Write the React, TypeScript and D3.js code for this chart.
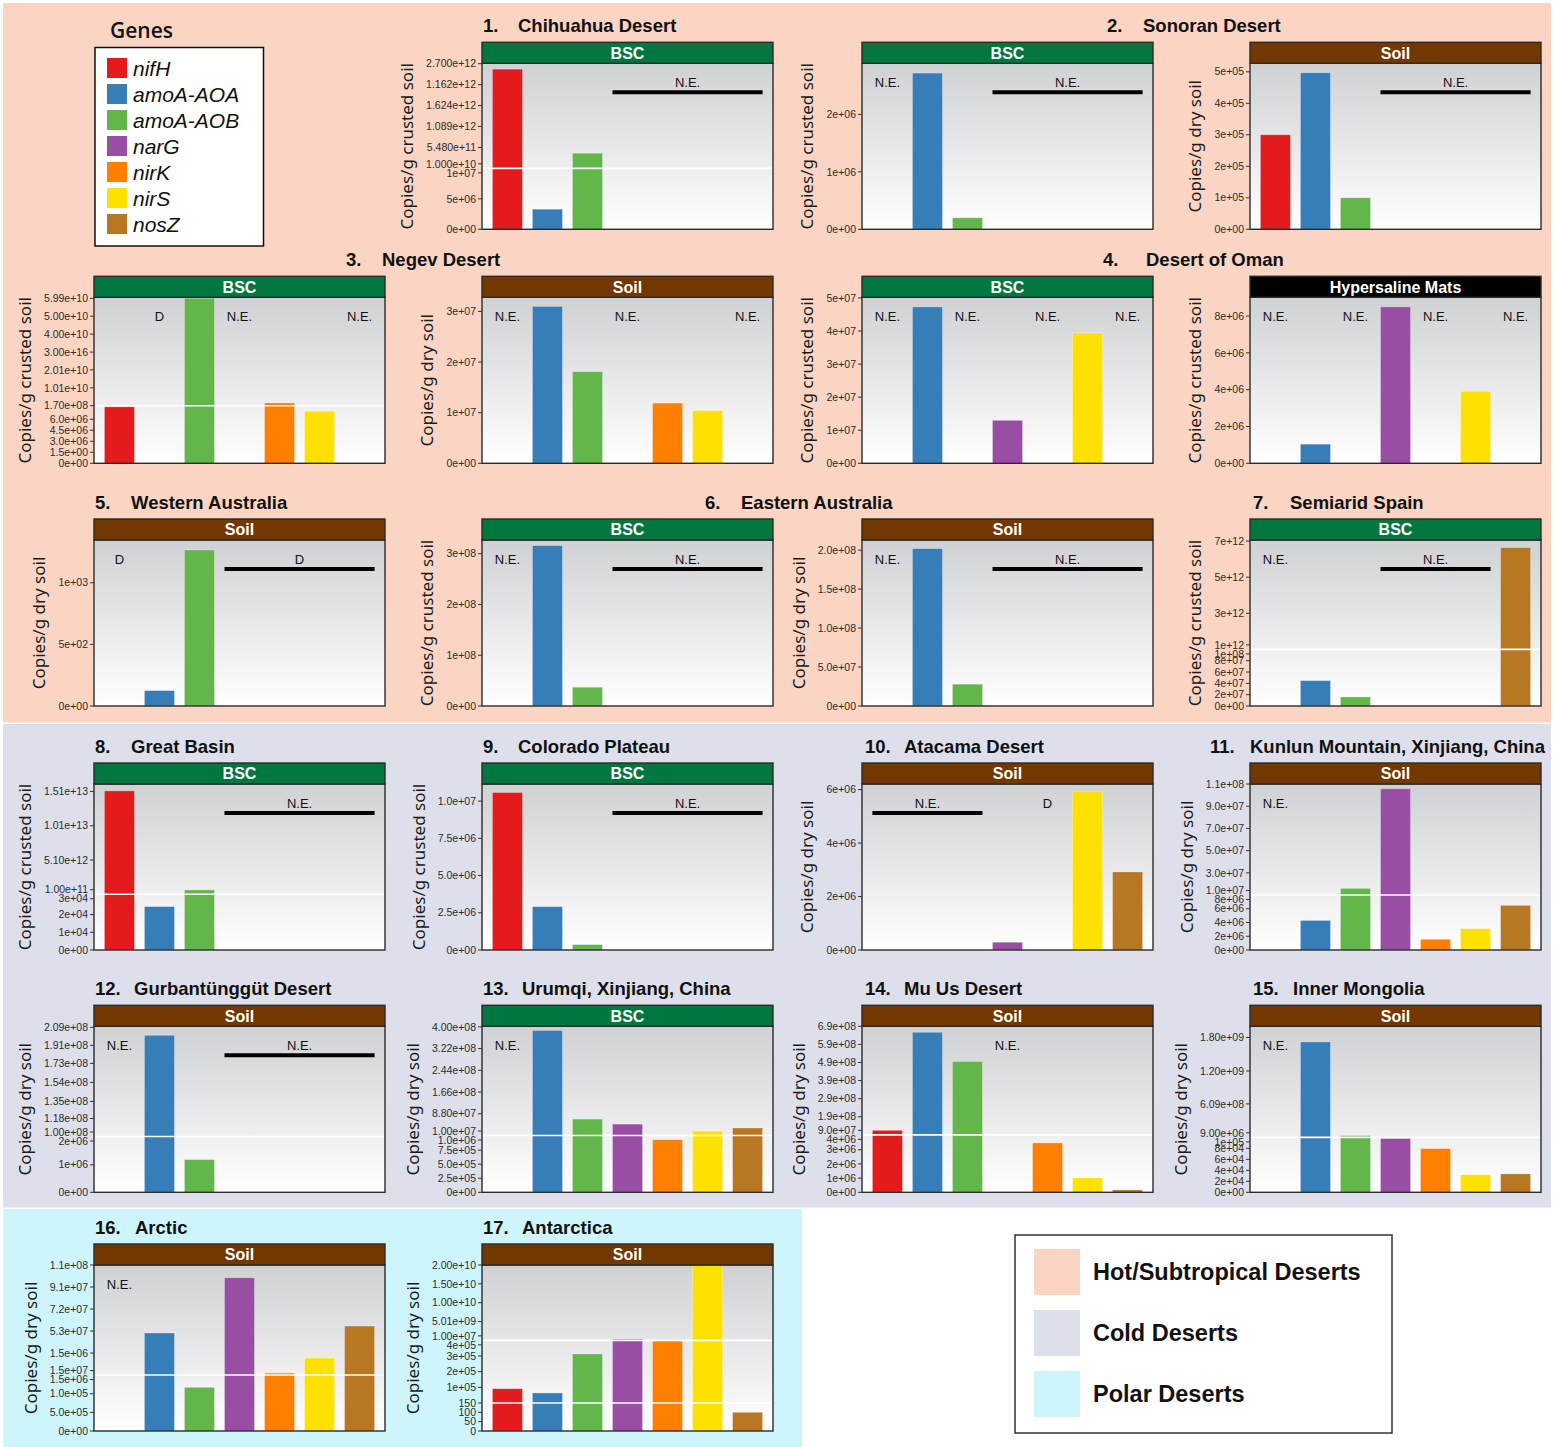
import React from 'react';
import * as d3 from 'd3';

// ---------------- DATA ----------------
const genes = ['nifH', 'amoA-AOA', 'amoA-AOB', 'narG', 'nirK', 'nirS', 'nosZ'];
const geneColors = ['#E41A1C', '#377EB8', '#62B64A', '#984EA3', '#FF7F00', '#FFE100', '#B87722'];

const zoneNames = ['Hot/Subtropical Deserts', 'Cold Deserts', 'Polar Deserts'];
const zoneColors = ['#FAD5C3', '#DDE0EB', '#CFF5FC'];

const siteNumbers = ['1.', '2.', '3.', '4.', '5.', '6.', '7.', '8.', '9.', '10.', '11.', '12.', '13.', '14.', '15.', '16.', '17.'];
const siteNames = [
  'Chihuahua Desert', 'Sonoran Desert', 'Negev Desert', 'Desert of Oman', 'Western Australia',
  'Eastern Australia', 'Semiarid Spain', 'Great Basin', 'Colorado Plateau', 'Atacama Desert',
  'Kunlun Mountain, Xinjiang, China', 'Gurbantünggüt Desert', 'Urumqi, Xinjiang, China',
  'Mu Us Desert', 'Inner Mongolia', 'Arctic', 'Antarctica',
];

const stripColors: Record<string, string> = { BSC: '#00773F', Soil: '#733800', 'Hypersaline Mats': '#000000' };
const crusted = 'Copies/g crusted soil';
const dry = 'Copies/g dry soil';

const _ = null;

// 1. Chihuahua – BSC
const p1Values = [2.56e12, 3.3e6, 4.0e11, _, _, _, _];
const p1Domain = [0, 1e7, 1e10, 2.71e12];
const p1Ticks = [0, 5e6, 1e7, 1e10, 5.48e11, 1.089e12, 1.624e12, 2.162e12, 2.7e12];
const p1TickLabels = ['0e+00', '5e+06', '1e+07', '1.000e+10', '5.480e+11', '1.089e+12', '1.624e+12', '1.162e+12', '2.700e+12'];
const p1Notes = [{ text: 'N.E.', from: 3, to: 6 }];

// 2. Sonoran – BSC
const p2aValues = [_, 2.72e6, 2.0e5, _, _, _, _];
const p2aDomain = [0, 2.89e6];
const p2aTicks = [0, 1e6, 2e6];
const p2aTickLabels = ['0e+00', '1e+06', '2e+06'];
const p2aNotes = [{ text: 'N.E.', from: 0 }, { text: 'N.E.', from: 3, to: 6 }];

// 2. Sonoran – Soil
const p2bValues = [3.0e5, 4.97e5, 1.0e5, _, _, _, _];
const p2bDomain = [0, 5.27e5];
const p2bTicks = [0, 1e5, 2e5, 3e5, 4e5, 5e5];
const p2bTickLabels = ['0e+00', '1e+05', '2e+05', '3e+05', '4e+05', '5e+05'];
const p2bNotes = [{ text: 'N.E.', from: 3, to: 6 }];

// 3. Negev – BSC
const p3aValues = [7.7e6, _, 6.0e10, _, 1.7e9, 7.1e6, _];
const p3aDomain = [0, 7.85e6, 1.7e8, 6.05e10];
const p3aTicks = [0, 1.5e6, 3e6, 4.5e6, 6e6, 1.7e8, 1.01e10, 2.01e10, 3.0e10, 4.0e10, 5.0e10, 5.99e10];
const p3aTickLabels = ['0e+00', '1.5e+00', '3.0e+06', '4.5e+06', '6.0e+06', '1.70e+08', '1.01e+10', '2.01e+10', '3.00e+16', '4.00e+10', '5.00e+10', '5.99e+10'];
const p3aNotes = [{ text: 'D', from: 1 }, { text: 'N.E.', from: 3 }, { text: 'N.E.', from: 6 }];

// 3. Negev – Soil
const p3bValues = [_, 3.1e7, 1.81e7, _, 1.19e7, 1.04e7, _];
const p3bDomain = [0, 3.28e7];
const p3bTicks = [0, 1e7, 2e7, 3e7];
const p3bTickLabels = ['0e+00', '1e+07', '2e+07', '3e+07'];
const p3bNotes = [{ text: 'N.E.', from: 0 }, { text: 'N.E.', from: 3 }, { text: 'N.E.', from: 6 }];

// 4. Oman – BSC
const p4aValues = [_, 4.73e7, _, 1.3e7, _, 3.94e7, _];
const p4aDomain = [0, 5.02e7];
const p4aTicks = [0, 1e7, 2e7, 3e7, 4e7, 5e7];
const p4aTickLabels = ['0e+00', '1e+07', '2e+07', '3e+07', '4e+07', '5e+07'];
const p4aNotes = [{ text: 'N.E.', from: 0 }, { text: 'N.E.', from: 2 }, { text: 'N.E.', from: 4 }, { text: 'N.E.', from: 6 }];

// 4. Oman – Hypersaline mats
const p4bValues = [_, 1.04e6, _, 8.5e6, _, 3.91e6, _];
const p4bDomain = [0, 9.02e6];
const p4bTicks = [0, 2e6, 4e6, 6e6, 8e6];
const p4bTickLabels = ['0e+00', '2e+06', '4e+06', '6e+06', '8e+06'];
const p4bNotes = [{ text: 'N.E.', from: 0 }, { text: 'N.E.', from: 2 }, { text: 'N.E.', from: 4 }, { text: 'N.E.', from: 6 }];

// 5. Western Australia – Soil
const p5Values = [_, 125, 1266, _, _, _, _];
const p5Domain = [0, 1347];
const p5Ticks = [0, 500, 1000];
const p5TickLabels = ['0e+00', '5e+02', '1e+03'];
const p5Notes = [{ text: 'D', from: 0 }, { text: 'D', from: 3, to: 6 }];

// 6. Eastern Australia – BSC
const p6aValues = [_, 3.16e8, 3.7e7, _, _, _, _];
const p6aDomain = [0, 3.27e8];
const p6aTicks = [0, 1e8, 2e8, 3e8];
const p6aTickLabels = ['0e+00', '1e+08', '2e+08', '3e+08'];
const p6aNotes = [{ text: 'N.E.', from: 0 }, { text: 'N.E.', from: 3, to: 6 }];

// 6. Eastern Australia – Soil
const p6bValues = [_, 2.02e8, 2.8e7, _, _, _, _];
const p6bDomain = [0, 2.13e8];
const p6bTicks = [0, 5e7, 1e8, 1.5e8, 2e8];
const p6bTickLabels = ['0e+00', '5.0e+07', '1.0e+08', '1.5e+08', '2.0e+08'];
const p6bNotes = [{ text: 'N.E.', from: 0 }, { text: 'N.E.', from: 3, to: 6 }];

// 7. Semiarid Spain – BSC
const p7Values = [_, 4.48e7, 1.6e7, _, _, _, 6.64e12];
const p7Domain = [0, 1.0e8, 1e12, 7.06e12];
const p7Ticks = [0, 2e7, 4e7, 6e7, 8e7, 1e8, 1e12, 3e12, 5e12, 7e12];
const p7TickLabels = ['0e+00', '2e+07', '4e+07', '6e+07', '8e+07', '1e+08', '1e+12', '3e+12', '5e+12', '7e+12'];
const p7Notes = [{ text: 'N.E.', from: 0 }, { text: 'N.E.', from: 3, to: 5 }];

// 8. Great Basin – BSC
const p8Values = [1.52e13, 2.45e4, 7.3e11, _, _, _, _];
const p8Domain = [0, 3.15e4, 1e11, 1.62e13];
const p8Ticks = [0, 1e4, 2e4, 3e4, 1e11, 5.1e12, 1.01e13, 1.51e13];
const p8TickLabels = ['0e+00', '1e+04', '2e+04', '3e+04', '1.00e+11', '5.10e+12', '1.01e+13', '1.51e+13'];
const p8Notes = [{ text: 'N.E.', from: 3, to: 6 }];

// 9. Colorado Plateau – BSC
const p9Values = [1.058e7, 2.91e6, 3.6e5, _, _, _, _];
const p9Domain = [0, 1.115e7];
const p9Ticks = [0, 2.5e6, 5e6, 7.5e6, 1e7];
const p9TickLabels = ['0e+00', '2.5e+06', '5.0e+06', '7.5e+06', '1.0e+07'];
const p9Notes = [{ text: 'N.E.', from: 3, to: 6 }];

// 10. Atacama – Soil
const p10Values = [_, _, _, 2.9e5, _, 5.94e6, 2.92e6];
const p10Domain = [0, 6.21e6];
const p10Ticks = [0, 2e6, 4e6, 6e6];
const p10TickLabels = ['0e+00', '2e+06', '4e+06', '6e+06'];
const p10Notes = [{ text: 'N.E.', from: 0, to: 2 }, { text: 'D', from: 4 }];

// 11. Kunlun Mountain – Soil
const p11Values = [_, 4.3e6, 1.6e7, 1.057e8, 1.56e6, 3.1e6, 6.5e6];
const p11Domain = [0, 8e6, 1e7, 1.1e8];
const p11Ticks = [0, 2e6, 4e6, 6e6, 8e6, 1e7, 3e7, 5e7, 7e7, 9e7, 1.1e8];
const p11TickLabels = ['0e+00', '2e+06', '4e+06', '6e+06', '8e+06', '1.0e+07', '3.0e+07', '5.0e+07', '7.0e+07', '9.0e+07', '1.1e+08'];
const p11Notes = [{ text: 'N.E.', from: 0 }];

// 12. Gurbantünggüt – Soil
const p12Values = [_, 2.01e8, 1.19e6, _, _, _, _];
const p12Domain = [0, 2.03e6, 1e8, 2.1e8];
const p12Ticks = [0, 1e6, 2e6, 1e8, 1.18e8, 1.35e8, 1.54e8, 1.73e8, 1.91e8, 2.09e8];
const p12TickLabels = ['0e+00', '1e+06', '2e+06', '1.00e+08', '1.18e+08', '1.35e+08', '1.54e+08', '1.73e+08', '1.91e+08', '2.09e+08'];
const p12Notes = [{ text: 'N.E.', from: 0 }, { text: 'N.E.', from: 3, to: 6 }];

// 13. Urumqi – BSC
const p13Values = [_, 3.87e8, 6.9e7, 5.1e7, 9.36e5, 2.6e7, 3.7e7];
const p13Domain = [0, 1.01e6, 1e7, 4.02e8];
const p13Ticks = [0, 2.5e5, 5e5, 7.5e5, 1e6, 1e7, 8.8e7, 1.66e8, 2.44e8, 3.22e8, 4.0e8];
const p13TickLabels = ['0e+00', '2.5e+05', '5.0e+05', '7.5e+05', '1.0e+06', '1.00e+07', '8.80e+07', '1.66e+08', '2.44e+08', '3.22e+08', '4.00e+08'];
const p13Notes = [{ text: 'N.E.', from: 0 }];

// 14. Mu Us – Soil
const p14Values = [1.15e8, 6.57e8, 4.96e8, _, 3.48e6, 1.02e6, 1.7e5];
const p14Domain = [0, 4.05e6, 9e7, 6.9e8];
const p14Ticks = [0, 1e6, 2e6, 3e6, 4e6, 9e7, 1.9e8, 2.9e8, 3.9e8, 4.9e8, 5.9e8, 6.9e8];
const p14TickLabels = ['0e+00', '1e+06', '2e+06', '3e+06', '4e+06', '9.0e+07', '1.9e+08', '2.9e+08', '3.9e+08', '4.9e+08', '5.9e+08', '6.9e+08'];
const p14Notes = [{ text: 'N.E.', from: 3 }];

// 15. Inner Mongolia – Soil
const p15Values = [_, 1.72e9, 4.0e7, 9.8e4, 7.95e4, 3.2e4, 3.35e4];
const p15Domain = [0, 1e5, 9e6, 2.0e9];
const p15Ticks = [0, 2e4, 4e4, 6e4, 8e4, 1e5, 9e6, 6.09e8, 1.2e9, 1.8e9];
const p15TickLabels = ['0e+00', '2e+04', '4e+04', '6e+04', '8e+04', '1e+05', '9.00e+06', '6.09e+08', '1.20e+09', '1.80e+09'];
const p15Notes = [{ text: 'N.E.', from: 0 }];

// 16. Arctic – Soil
const p16Values = [_, 5.13e7, 1.17e6, 9.9e7, 1.67e7, 2.97e7, 5.73e7];
const p16Domain = [0, 1.5e6, 1.5e7, 1.1e8];
const p16Ticks = [0, 5e5, 1e6, 1.5e6, 1.5e7, 3.4e7, 5.3e7, 7.2e7, 9.1e7, 1.1e8];
const p16TickLabels = ['0e+00', '5.0e+05', '1.0e+05', '1.5e+06', '1.5e+07', '1.5e+06', '5.3e+07', '7.2e+07', '9.1e+07', '1.1e+08'];
const p16Notes = [{ text: 'N.E.', from: 0 }];

// 17. Antarctica – Soil
const p17Values = [9.1e4, 6.4e4, 3.13e5, 3.9e8, 3.96e5, 2.0e10, 100];
const p17Domain = [0, 150, 4e5, 1e7, 2e10];
const p17Ticks = [0, 50, 100, 150, 1e5, 2e5, 3e5, 4e5, 1e7, 5.01e9, 1e10, 1.5e10, 2e10];
const p17TickLabels = ['0', '50', '100', '150', '1e+05', '2e+05', '3e+05', '4e+05', '1.00e+07', '5.01e+09', '1.00e+10', '1.50e+10', '2.00e+10'];
const p17Notes: { text: string; from: number; to?: number }[] = [];

// ---------------- LAYOUT ----------------
const W = 1556;
const H = 1447;
const COL_X = [94, 482, 862, 1250];
const PANEL_W = 291;
const STRIP_TOP = [42.3, 276.3, 519, 763, 1005.3, 1244];
const STRIP_H = 21;
const PLOT_H = 166;

const SANS = "'Liberation Sans', Arial, Helvetica, sans-serif";
const TICK_FONT = 10.5;

type Note = { text: string; from: number; to?: number };
type PanelDef = {
  values: (number | null)[]; domain: number[]; ticks: number[]; labels: string[]; notes: Note[];
  strip: string; ylab: string; row: number; col: number; fracs: number[]; breaks: number[];
};

const lin = { fracs: [0, 1], breaks: [] as number[] };
const brk = (b: number) => ({ fracs: [0, b, b, 1], breaks: [b] });

const panels: PanelDef[] = [
  { values: p1Values, domain: p1Domain, ticks: p1Ticks, labels: p1TickLabels, notes: p1Notes, strip: 'BSC', ylab: crusted, row: 0, col: 1, ...brk(0.367) },
  { values: p2aValues, domain: p2aDomain, ticks: p2aTicks, labels: p2aTickLabels, notes: p2aNotes, strip: 'BSC', ylab: crusted, row: 0, col: 2, ...lin },
  { values: p2bValues, domain: p2bDomain, ticks: p2bTicks, labels: p2bTickLabels, notes: p2bNotes, strip: 'Soil', ylab: dry, row: 0, col: 3, ...lin },
  { values: p3aValues, domain: p3aDomain, ticks: p3aTicks, labels: p3aTickLabels, notes: p3aNotes, strip: 'BSC', ylab: crusted, row: 1, col: 0, ...brk(0.347) },
  { values: p3bValues, domain: p3bDomain, ticks: p3bTicks, labels: p3bTickLabels, notes: p3bNotes, strip: 'Soil', ylab: dry, row: 1, col: 1, ...lin },
  { values: p4aValues, domain: p4aDomain, ticks: p4aTicks, labels: p4aTickLabels, notes: p4aNotes, strip: 'BSC', ylab: crusted, row: 1, col: 2, ...lin },
  { values: p4bValues, domain: p4bDomain, ticks: p4bTicks, labels: p4bTickLabels, notes: p4bNotes, strip: 'Hypersaline Mats', ylab: crusted, row: 1, col: 3, ...lin },
  { values: p5Values, domain: p5Domain, ticks: p5Ticks, labels: p5TickLabels, notes: p5Notes, strip: 'Soil', ylab: dry, row: 2, col: 0, ...lin },
  { values: p6aValues, domain: p6aDomain, ticks: p6aTicks, labels: p6aTickLabels, notes: p6aNotes, strip: 'BSC', ylab: crusted, row: 2, col: 1, ...lin },
  { values: p6bValues, domain: p6bDomain, ticks: p6bTicks, labels: p6bTickLabels, notes: p6bNotes, strip: 'Soil', ylab: dry, row: 2, col: 2, ...lin },
  { values: p7Values, domain: p7Domain, ticks: p7Ticks, labels: p7TickLabels, notes: p7Notes, strip: 'BSC', ylab: crusted, row: 2, col: 3, ...brk(0.341) },
  { values: p8Values, domain: p8Domain, ticks: p8Ticks, labels: p8TickLabels, notes: p8Notes, strip: 'BSC', ylab: crusted, row: 3, col: 0, ...brk(0.336) },
  { values: p9Values, domain: p9Domain, ticks: p9Ticks, labels: p9TickLabels, notes: p9Notes, strip: 'BSC', ylab: crusted, row: 3, col: 1, ...lin },
  { values: p10Values, domain: p10Domain, ticks: p10Ticks, labels: p10TickLabels, notes: p10Notes, strip: 'Soil', ylab: dry, row: 3, col: 2, ...lin },
  { values: p11Values, domain: p11Domain, ticks: p11Ticks, labels: p11TickLabels, notes: p11Notes, strip: 'Soil', ylab: dry, row: 3, col: 3, ...brk(0.331) },
  { values: p12Values, domain: p12Domain, ticks: p12Ticks, labels: p12TickLabels, notes: p12Notes, strip: 'Soil', ylab: dry, row: 4, col: 0, ...brk(0.336) },
  { values: p13Values, domain: p13Domain, ticks: p13Ticks, labels: p13TickLabels, notes: p13Notes, strip: 'BSC', ylab: dry, row: 4, col: 1, ...brk(0.342) },
  { values: p14Values, domain: p14Domain, ticks: p14Ticks, labels: p14TickLabels, notes: p14Notes, strip: 'Soil', ylab: dry, row: 4, col: 2, ...brk(0.346) },
  { values: p15Values, domain: p15Domain, ticks: p15Ticks, labels: p15TickLabels, notes: p15Notes, strip: 'Soil', ylab: dry, row: 4, col: 3, ...brk(0.331) },
  { values: p16Values, domain: p16Domain, ticks: p16Ticks, labels: p16TickLabels, notes: p16Notes, strip: 'Soil', ylab: dry, row: 5, col: 0, ...brk(0.337) },
  { values: p17Values, domain: p17Domain, ticks: p17Ticks, labels: p17TickLabels, notes: p17Notes, strip: 'Soil', ylab: dry, row: 5, col: 1, fracs: [0, 0.169, 0.546, 0.546, 1], breaks: [0.169, 0.546] },
];

// title positions: [number x, name x, row]
const titleLayout: [number, number, number][] = [
  [483, 518, 0], [1107, 1143, 0],
  [346, 382, 1], [1103, 1146, 1],
  [95, 131, 2], [705, 741, 2], [1253, 1290, 2],
  [95, 131, 3], [483, 518, 3], [865, 904, 3], [1210, 1250, 3],
  [95, 134, 4], [483, 522, 4], [865, 904, 4], [1253, 1293, 4],
  [95, 135, 5], [483, 522, 5],
];

let measureCtx: CanvasRenderingContext2D | null = null;
function textWidth(s: string, font: string) {
  if (!measureCtx) measureCtx = document.createElement('canvas').getContext('2d');
  if (!measureCtx) return s.length * 6;
  measureCtx.font = font;
  return measureCtx.measureText(s).width;
}

function Panel({ p, idx }: { p: PanelDef; idx: number }) {
  const x0 = COL_X[p.col];
  const stripTop = STRIP_TOP[p.row];
  const top = stripTop + STRIP_H;
  const bottom = top + PLOT_H;
  const x = d3.scaleBand<string>().domain(genes).range([x0, x0 + PANEL_W]).paddingInner(0.25).paddingOuter(0.26);
  const y = d3.scaleLinear().domain(p.domain).range(p.fracs.map((f) => bottom - f * PLOT_H));
  const breakYs = p.breaks.map((b) => bottom - b * PLOT_H);

  // tick positions, pulled apart where two labels meet at a break
  const tickYs = p.ticks.map((t) => y(t));
  breakYs.forEach((by) => {
    const near = p.ticks.map((t, i) => i).filter((i) => Math.abs(tickYs[i] - by) < 4.5);
    if (near.length >= 2) {
      near.sort((a, b) => p.ticks[a] - p.ticks[b]);
      tickYs[near[0]] = by + 4.5;
      tickYs[near[near.length - 1]] = by - 4.5;
    }
  });

  const maxLabelW = d3.max(p.labels, (l) => textWidth(l, `${TICK_FONT}px ${SANS}`)) || 30;
  const labelRight = x0 - 6;
  const titleCx = labelRight - maxLabelW - 19;
  const gid = `grad${idx}`;

  return (
    <g>
      <defs>
        <linearGradient id={gid} x1="0" y1="0" x2="0" y2="1">
          <stop offset="0%" stopColor="#D0D1D4" />
          <stop offset="100%" stopColor="#FFFFFF" />
        </linearGradient>
      </defs>
      <rect x={x0} y={top} width={PANEL_W} height={PLOT_H} fill={`url(#${gid})`} />
      {p.values.map((v, i) =>
        v == null ? null : (
          <rect key={i} x={x(genes[i])} y={y(v)} width={x.bandwidth()} height={bottom - y(v)}
            fill={geneColors[i]} stroke="rgba(255,255,255,0.35)" strokeWidth={0.8} />
        ))}
      {breakYs.map((by, i) => (
        <line key={i} x1={x0} x2={x0 + PANEL_W} y1={by} y2={by} stroke="#FFFFFF" strokeWidth={1.6} />
      ))}
      {p.notes.map((n, i) => {
        const a = x(genes[n.from])!;
        if (n.to == null) {
          return (
            <text key={i} x={a + x.bandwidth() / 2} y={top + 23.5} textAnchor="middle"
              fontFamily={SANS} fontSize={13} fill="#111">{n.text}</text>
          );
        }
        const b = x(genes[n.to])! + x.bandwidth();
        return (
          <g key={i}>
            <line x1={a} x2={b} y1={top + 29} y2={top + 29} stroke="#000" strokeWidth={4} />
            <text x={(a + b) / 2} y={top + 23.5} textAnchor="middle" fontFamily={SANS} fontSize={13} fill="#111">{n.text}</text>
          </g>
        );
      })}
      <rect x={x0} y={top} width={PANEL_W} height={PLOT_H} fill="none" stroke="#2a2a2a" strokeWidth={1.4} />
      <rect x={x0} y={stripTop} width={PANEL_W} height={STRIP_H} fill={stripColors[p.strip]} stroke="#2a2a2a" strokeWidth={1.4} />
      <text x={x0 + PANEL_W / 2} y={stripTop + STRIP_H / 2 + 5.8} textAnchor="middle" fontFamily={SANS}
        fontWeight="bold" fontSize={16} fill="#FFFFFF">{p.strip}</text>
      {p.ticks.map((t, i) => (
        <g key={i}>
          <line x1={x0 - 4} x2={x0} y1={tickYs[i]} y2={tickYs[i]} stroke="#333" strokeWidth={1} />
          <text x={labelRight} y={tickYs[i]} dy="0.35em" textAnchor="end" fontFamily={SANS}
            fontSize={TICK_FONT} fill="#2b2b2b">{p.labels[i]}</text>
        </g>
      ))}
      <text transform={`translate(${titleCx},${top + PLOT_H / 2}) rotate(-90)`} dy="0.35em" textAnchor="middle"
        fontFamily="'Noto Sans', 'Open Sans', sans-serif" fontSize={17} fill="#1a1a1a">{p.ylab}</text>
    </g>
  );
}

export default function App() {
  return (
    <div style={{ position: 'absolute', left: 0, top: 0 }}>
      <svg width={W} height={H} viewBox={`0 0 ${W} ${H}`} style={{ display: 'block' }}>
        <rect x={0} y={0} width={W} height={H} fill="#FFFFFF" />
        {/* climate zone backgrounds */}
        <rect x={3} y={3} width={1548} height={719.5} fill={zoneColors[0]} />
        <rect x={3} y={724} width={1548} height={483.5} fill={zoneColors[1]} />
        <rect x={3} y={1209} width={799} height={238} fill={zoneColors[2]} />

        {/* gene legend */}
        <text x={110} y={38} fontFamily="'Open Sans', sans-serif" fontWeight={600} fontSize={21} fill="#111">Genes</text>
        <rect x={95} y={47.5} width={168.5} height={198.5} fill="#FFFFFF" stroke="#111" strokeWidth={1.5} />
        {genes.map((g, i) => (
          <g key={g}>
            <rect x={107} y={58 + i * 26} width={20} height={20} fill={geneColors[i]} />
            <text x={133} y={58 + i * 26 + 17.5} fontFamily={SANS} fontStyle="italic" fontSize={21} fill="#111">{g}</text>
          </g>
        ))}

        {/* site titles */}
        {siteNames.map((name, i) => {
          const [nx, tx, row] = titleLayout[i];
          const by = STRIP_TOP[row] - 10;
          return (
            <g key={name}>
              <text x={nx} y={by} fontFamily={SANS} fontWeight="bold" fontSize={18.5} fill="#111">{siteNumbers[i]}</text>
              <text x={tx} y={by} fontFamily={SANS} fontWeight="bold" fontSize={18.5} fill="#111">{name}</text>
            </g>
          );
        })}

        {panels.map((p, i) => <Panel key={i} p={p} idx={i} />)}

        {/* zone legend */}
        <rect x={1015} y={1235} width={377} height={198} fill="#FFFFFF" stroke="#333" strokeWidth={1.5} />
        {zoneNames.map((z, i) => (
          <g key={z}>
            <rect x={1034} y={1249 + i * 61} width={46} height={46} fill={zoneColors[i]} />
            <text x={1093} y={1249 + i * 61 + 31} fontFamily={SANS} fontWeight="bold" fontSize={23.5} fill="#111">{z}</text>
          </g>
        ))}
      </svg>
    </div>
  );
}
